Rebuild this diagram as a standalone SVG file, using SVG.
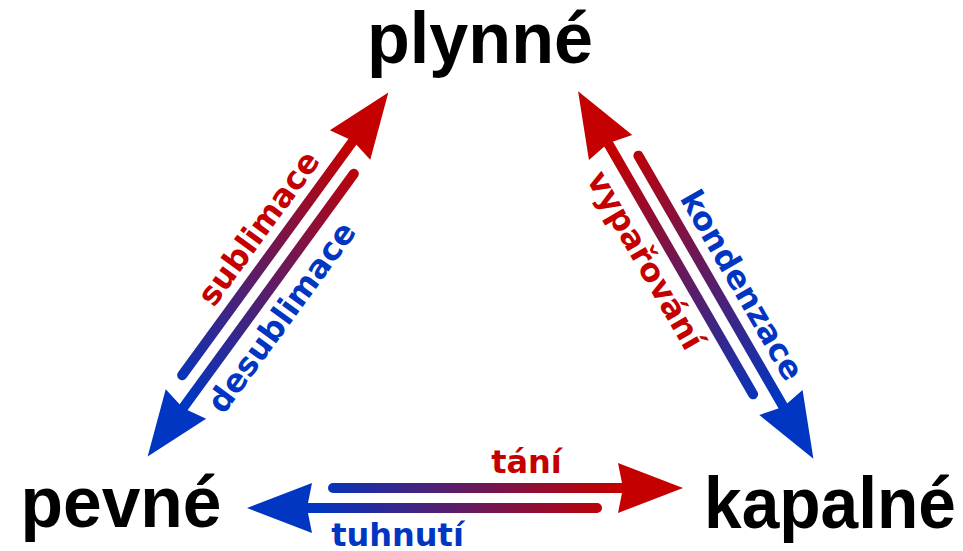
<svg xmlns="http://www.w3.org/2000/svg" width="963" height="551" viewBox="0 0 963 551">
  <defs>
    <linearGradient id="grad" gradientUnits="userSpaceOnUse" x1="-150" y1="0" x2="150" y2="0">
      <stop offset="0" stop-color="#0036c2"/>
      <stop offset="1" stop-color="#c40000"/>
    </linearGradient>
    <style>
      .node { font-family: "Liberation Sans", Arial, sans-serif; font-weight: bold; font-size: 72px; fill: #000; text-anchor: middle; }
      .shaft { stroke: url(#grad); stroke-width: 10; stroke-linecap: round; fill: none; }
      .headR { fill: #c40000; }
      .headB { fill: #0036c2; }
      .lbl { font-family: "DejaVu Sans", Verdana, sans-serif; font-weight: bold; font-size: 32px; text-anchor: middle; }
      .red { fill: #c40000; }
      .blue { fill: #0036c2; }
    </style>
  </defs>

  <g id="node-plynne">
    <text class="node" x="480" y="63" textLength="226" lengthAdjust="spacingAndGlyphs">plynné</text>
  </g>
  <g id="node-pevne">
    <text class="node" x="121" y="527" textLength="201" lengthAdjust="spacingAndGlyphs">pevné</text>
  </g>
  <g id="node-kapalne">
    <text class="node" x="830" y="528" textLength="252" lengthAdjust="spacingAndGlyphs">kapalné</text>
  </g>

  <g id="connectors">
    <!-- pevné <-> plynné -->
    <g id="edge-sublimace" transform="translate(268,274.5) rotate(-53.9)">
      <line class="shaft" x1="-132" y1="-10" x2="160" y2="-10"/>
      <polygon class="headR" points="218,-10 153,-35 158,-10 153,15"/>
      <text class="lbl red" x="32" y="-24">sublimace</text>
    </g>
    <g id="edge-desublimace" transform="translate(268,274.5) rotate(-53.9)">
      <line class="shaft" x1="132" y1="10" x2="-160" y2="10"/>
      <polygon class="headB" points="-218,10 -153,-15 -158,10 -153,35"/>
      <text class="lbl blue" x="-26.5" y="47">desublimace</text>
    </g>

    <!-- kapalné <-> plynné -->
    <g id="edge-vyparovani" transform="translate(695.75,275) rotate(-120)">
      <line class="shaft" x1="-132" y1="-10" x2="160" y2="-10"/>
      <polygon class="headR" points="218,-10 153,-35 158,-10 153,15"/>
    </g>
    <g id="edge-kondenzace" transform="translate(695.75,275) rotate(-120)">
      <line class="shaft" x1="132" y1="10" x2="-160" y2="10"/>
      <polygon class="headB" points="-218,10 -153,-15 -158,10 -153,35"/>
    </g>
    <g id="labels-right" transform="translate(695.75,275) rotate(60)">
      <text class="lbl blue" x="32" y="-24">kondenzace</text>
      <text class="lbl red" x="-38" y="47">vypařování</text>
    </g>

    <!-- pevné <-> kapalné -->
    <g id="edge-tani" transform="translate(465,498)">
      <line class="shaft" x1="-132" y1="-10" x2="160" y2="-10"/>
      <polygon class="headR" points="218,-10 153,-35 158,-10 153,15"/>
      <text class="lbl red" x="61.5" y="-25">tání</text>
    </g>
    <g id="edge-tuhnuti" transform="translate(465,498)">
      <line class="shaft" x1="132" y1="10" x2="-160" y2="10"/>
      <polygon class="headB" points="-218,10 -153,-15 -158,10 -153,35"/>
      <text class="lbl blue" x="-67.5" y="48">tuhnutí</text>
    </g>
  </g>
</svg>
